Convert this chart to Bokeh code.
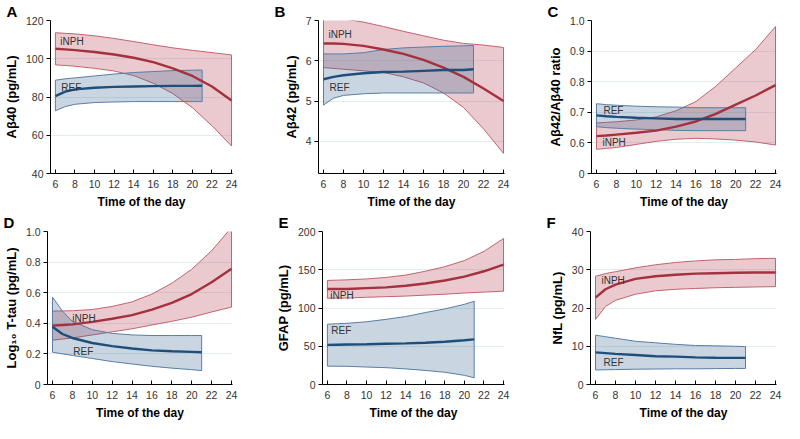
from bokeh.plotting import figure
from bokeh.layouts import column, row
from bokeh.models import Range1d, FixedTicker, Label, Title
from bokeh.embed import file_html
from bokeh.resources import INLINE

# ---------------- data ----------------
HOURS_INPH = [6, 7, 8, 10, 12, 14, 16, 18, 20, 22, 24]
HOURS_REF = [6, 7, 8, 10, 12, 14, 16, 18, 20, 21]
X_TICKS = [6, 8, 10, 12, 14, 16, 18, 20, 22, 24]

# A: Abeta40
A_INPH_MEAN = [105.2, 104.9, 104.5, 103.5, 102.2, 100.5, 98.2, 95.0, 91.0, 85.5, 78.2]
A_INPH_UP = [113.6, 113.3, 113.0, 112.0, 110.6, 109.0, 107.3, 105.7, 104.4, 103.2, 102.0]
A_INPH_LO = [96.8, 96.5, 96.1, 95.0, 93.6, 91.2, 87.2, 81.8, 74.4, 65.0, 54.4]
A_REF_MEAN = [80.5, 82.8, 84.0, 84.8, 85.3, 85.5, 85.7, 85.8, 85.8, 85.9]
A_REF_UP = [88.8, 89.5, 90.0, 91.0, 92.0, 92.8, 93.3, 93.8, 94.0, 94.1]
A_REF_LO = [72.8, 75.0, 76.2, 77.1, 77.4, 77.6, 77.6, 77.6, 77.6, 77.6]

# B: Abeta42
B_INPH_MEAN = [6.43, 6.43, 6.42, 6.37, 6.28, 6.17, 6.02, 5.83, 5.60, 5.31, 5.00]
B_INPH_UP = [7.05, 7.05, 7.04, 6.96, 6.85, 6.73, 6.62, 6.51, 6.43, 6.39, 6.33]
B_INPH_LO = [5.83, 5.81, 5.79, 5.75, 5.71, 5.60, 5.45, 5.20, 4.84, 4.31, 3.70]
B_REF_MEAN = [5.54, 5.60, 5.64, 5.69, 5.72, 5.73, 5.75, 5.77, 5.77, 5.79]
B_REF_UP = [6.17, 6.17, 6.17, 6.20, 6.28, 6.32, 6.34, 6.36, 6.37, 6.38]
B_REF_LO = [4.90, 5.07, 5.14, 5.18, 5.20, 5.20, 5.20, 5.20, 5.20, 5.20]

# C: Abeta42/Abeta40 ratio
C_INPH_MEAN = [0.622, 0.624, 0.627, 0.633, 0.640, 0.653, 0.670, 0.695, 0.725, 0.755, 0.789]
C_INPH_UP = [0.665, 0.667, 0.669, 0.675, 0.685, 0.705, 0.735, 0.785, 0.845, 0.905, 0.980]
C_INPH_LO = [0.579, 0.582, 0.585, 0.595, 0.605, 0.612, 0.615, 0.613, 0.609, 0.603, 0.593]
C_REF_MEAN = [0.690, 0.687, 0.685, 0.682, 0.680, 0.678, 0.678, 0.678, 0.678, 0.678]
C_REF_UP = [0.728, 0.725, 0.723, 0.720, 0.718, 0.717, 0.715, 0.715, 0.715, 0.715]
C_REF_LO = [0.653, 0.650, 0.648, 0.645, 0.643, 0.641, 0.640, 0.640, 0.640, 0.640]

# D: Log10 T-tau
D_INPH_MEAN = [0.385, 0.389, 0.393, 0.409, 0.430, 0.453, 0.490, 0.534, 0.591, 0.668, 0.757]
D_INPH_UP = [0.480, 0.481, 0.482, 0.490, 0.510, 0.540, 0.591, 0.662, 0.753, 0.874, 1.026]
D_INPH_LO = [0.290, 0.297, 0.304, 0.324, 0.344, 0.364, 0.389, 0.413, 0.440, 0.474, 0.506]
D_REF_MEAN = [0.378, 0.330, 0.304, 0.271, 0.251, 0.235, 0.223, 0.217, 0.213, 0.211]
D_REF_UP = [0.571, 0.480, 0.413, 0.358, 0.334, 0.324, 0.320, 0.320, 0.320, 0.320]
D_REF_LO = [0.211, 0.200, 0.190, 0.170, 0.150, 0.134, 0.119, 0.107, 0.097, 0.091]

# E: GFAP
E_INPH_MEAN = [124.8, 124.8, 124.8, 126.0, 127.0, 129.0, 132.0, 136.0, 141.0, 148.0, 156.8]
E_INPH_UP = [136.0, 136.4, 136.8, 138.0, 140.0, 143.0, 148.0, 154.0, 162.0, 174.0, 190.8]
E_INPH_LO = [112.8, 112.9, 113.0, 114.0, 114.8, 115.6, 116.8, 118.0, 119.6, 120.8, 122.0]
E_REF_MEAN = [51.8, 52.0, 52.2, 52.6, 53.2, 53.8, 54.6, 55.8, 57.8, 59.0]
E_REF_UP = [78.8, 79.4, 80.0, 82.0, 85.2, 88.8, 94.0, 98.8, 104.8, 108.8]
E_REF_LO = [24.0, 23.9, 23.8, 22.8, 22.0, 20.4, 18.4, 16.0, 12.0, 8.8]

# F: NfL
F_INPH_MEAN = [22.7, 24.9, 26.1, 27.6, 28.3, 28.7, 29.0, 29.1, 29.2, 29.3, 29.3]
F_INPH_UP = [28.3, 29.0, 29.5, 30.5, 31.3, 31.9, 32.3, 32.6, 32.7, 32.9, 33.0]
F_INPH_LO = [17.0, 20.4, 22.0, 23.6, 24.5, 24.9, 25.1, 25.3, 25.4, 25.5, 25.6]
F_REF_MEAN = [8.4, 8.2, 8.0, 7.7, 7.4, 7.3, 7.1, 7.0, 6.97, 6.95]
F_REF_UP = [12.9, 12.5, 12.1, 11.3, 10.9, 10.5, 10.2, 10.1, 10.0, 9.9]
F_REF_LO = [3.8, 3.85, 3.9, 4.0, 4.05, 4.1, 4.1, 4.15, 4.2, 4.2]

# ---------------- style ----------------
FONT = "Liberation Sans"
RED_LINE = "#A5303E"
RED_FILL = "#B5404E"
RED_EDGE = "#C2636F"
BLUE_LINE = "#1F4E7A"
BLUE_FILL = "#2E5F8E"
BLUE_EDGE = "#5A7DA6"
GRID = "#E3EDF0"


def make_panel(letter, ylabel, y_start, y_end, yticks, ylabels,
               inph, ref, lab_inph, lab_ref, width, border_right):
    p = figure(width=width, height=211,
               x_range=Range1d(5.5, 24.1), y_range=Range1d(y_start, y_end),
               output_backend="svg", toolbar_location=None,
               min_border_left=46, min_border_right=border_right,
               min_border_top=4, min_border_bottom=38)
    p.outline_line_color = None
    p.background_fill_color = "white"
    p.border_fill_color = "white"

    # panel letter as a left-aligned title pushed into the left margin
    p.title = Title(text=letter, align="left", offset=-44, standoff=1,
                    text_font=FONT, text_font_size="15px",
                    text_font_style="bold", text_color="black")

    i_mean, i_up, i_lo = inph
    r_mean, r_up, r_lo = ref

    # bands
    p.patch(HOURS_INPH + HOURS_INPH[::-1], i_up + i_lo[::-1],
            fill_color=RED_FILL, fill_alpha=0.28,
            line_color=RED_EDGE, line_width=1)
    p.patch(HOURS_REF + HOURS_REF[::-1], r_up + r_lo[::-1],
            fill_color=BLUE_FILL, fill_alpha=0.26,
            line_color=BLUE_EDGE, line_width=1)
    # mean curves
    p.line(HOURS_INPH, i_mean, line_color=RED_LINE, line_width=2.4)
    p.line(HOURS_REF, r_mean, line_color=BLUE_LINE, line_width=2.4)

    # group labels
    for (lx, ly), txt in ((lab_inph, "iNPH"), (lab_ref, "REF")):
        p.add_layout(Label(x=lx, y=ly, text=txt, text_font=FONT,
                           text_font_size="10px", text_color="#333333",
                           text_baseline="middle", text_align="left"))

    # axes
    p.xaxis.ticker = FixedTicker(ticks=X_TICKS)
    p.yaxis.ticker = FixedTicker(ticks=yticks)
    if ylabels is not None:
        p.yaxis.major_label_overrides = {t: s for t, s in zip(yticks, ylabels)}
    p.xgrid.visible = False
    p.ygrid.ticker = FixedTicker(ticks=yticks)
    p.ygrid.grid_line_color = GRID
    p.ygrid.grid_line_width = 1

    p.xaxis.axis_label = "Time of the day"
    p.yaxis.axis_label = ylabel
    for ax in (p.xaxis, p.yaxis):
        ax.axis_line_color = "black"
        ax.axis_line_width = 1
        ax.major_tick_line_color = "black"
        ax.minor_tick_line_color = None
        ax.major_label_text_font = FONT
        ax.major_label_text_font_size = "10.5px"
        ax.major_label_text_color = "#333333"
        ax.axis_label_text_font = FONT
        ax.axis_label_text_font_style = "bold"
        ax.axis_label_text_color = "black"
    p.xaxis.major_tick_in = 4
    p.xaxis.major_tick_out = 0
    p.xaxis.major_label_standoff = 6
    p.xaxis.axis_label_standoff = 4
    p.xaxis.axis_label_text_font_size = "12px"
    p.yaxis.major_tick_in = 0
    p.yaxis.major_tick_out = 4
    p.yaxis.major_label_standoff = 3
    p.yaxis.axis_label_standoff = 4
    p.yaxis.axis_label_text_font_size = "13px"
    return p


pA = make_panel("A", "Aβ40 (pg/mL)", 40, 120, [40, 60, 80, 100, 120], None,
                (A_INPH_MEAN, A_INPH_UP, A_INPH_LO), (A_REF_MEAN, A_REF_UP, A_REF_LO),
                (6.5, 109), (6.6, 85), 272, 40)
pB = make_panel("B", "Aβ42 (pg/mL)", 3.2, 7.0, [4, 5, 6, 7], None,
                (B_INPH_MEAN, B_INPH_UP, B_INPH_LO), (B_REF_MEAN, B_REF_UP, B_REF_LO),
                (6.5, 6.66), (6.6, 5.33), 272, 40)
pC = make_panel("C", "Aβ42/Aβ40 ratio", 0.5, 1.0, [0.5, 0.6, 0.7, 0.8, 0.9, 1.0],
                ["0", "0.6", "0.7", "0.8", "0.9", "1.0"],
                (C_INPH_MEAN, C_INPH_UP, C_INPH_LO), (C_REF_MEAN, C_REF_UP, C_REF_LO),
                (6.6, 0.600), (6.7, 0.705), 240, 8)
pD = make_panel("D", "Log₁₀ T-tau (pg/mL)", 0, 1.0, [0, 0.2, 0.4, 0.6, 0.8, 1.0],
                ["0", "0.2", "0.4", "0.6", "0.8", "1.0"],
                (D_INPH_MEAN, D_INPH_UP, D_INPH_LO), (D_REF_MEAN, D_REF_UP, D_REF_LO),
                (8.0, 0.43), (8.1, 0.215), 272, 40)
pE = make_panel("E", "GFAP (pg/mL)", 0, 200, [0, 50, 100, 150, 200], None,
                (E_INPH_MEAN, E_INPH_UP, E_INPH_LO), (E_REF_MEAN, E_REF_UP, E_REF_LO),
                (6.3, 116), (6.4, 70), 272, 40)
pF = make_panel("F", "NfL (pg/mL)", 0, 40, [0, 10, 20, 30, 40], None,
                (F_INPH_MEAN, F_INPH_UP, F_INPH_LO), (F_REF_MEAN, F_REF_UP, F_REF_LO),
                (6.6, 27.3), (6.8, 5.7), 240, 8)

layout = column(row(pA, pB, pC), row(pD, pE, pF))

open("out.html", "w").write(file_html(layout, INLINE))
